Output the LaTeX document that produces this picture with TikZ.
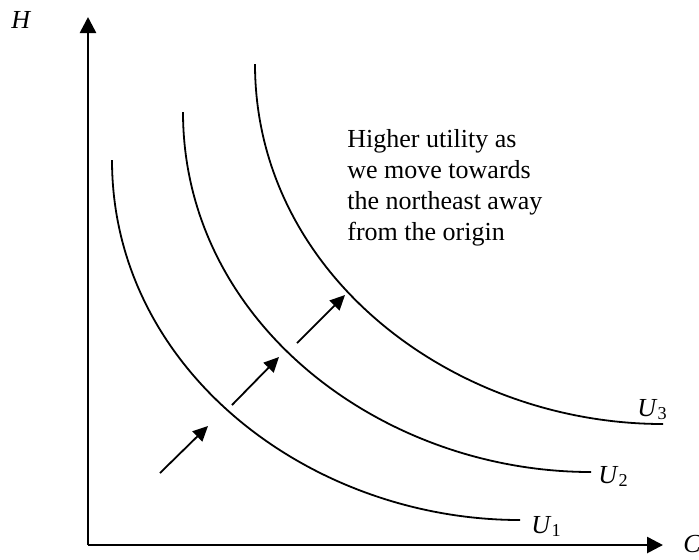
\documentclass[tikz,border=0pt]{standalone}
\usepackage{fontspec}
\setmainfont{Liberation Serif}
\usetikzlibrary{arrows.meta}
\begin{document}
\begin{tikzpicture}[x=0.5pt, y=-0.5pt, font=\fontsize{13}{15.5}\selectfont,
    axis/.style={line width=1.3pt, -{Triangle[length=8pt, width=8pt]}},
    indiff/.style={line width=0.9pt},
    shiftarrow/.style={line width=0.9pt, -{Triangle[length=7.5pt, width=7pt]}},
    curvelabel/.style={anchor=base west, inner sep=0pt}]
\useasboundingbox (0,0) rectangle (699,559);
% origin and axis ends
\coordinate (O)    at (88,545);
\coordinate (Htop) at (88,17);
\coordinate (Cend) at (663,545);
% x and y axes
\draw[axis] (O) -- (Htop);
\draw[axis] (O) -- (Cend);
\node[curvelabel] (Hlabel) at (11,28)   {\textit{H}};
\node[curvelabel] (Clabel) at (683,552) {\textit{C}};
% indifference curves (same shape, shifted to the northeast)
\coordinate (U1top) at (112,160); \coordinate (U1end) at (520,520);
\coordinate (U2top) at (183,112); \coordinate (U2end) at (591,472);
\coordinate (U3top) at (255,64);  \coordinate (U3end) at (663,424);
\draw[indiff] (U1top) .. controls (112,370) and (310,520) .. (U1end);
\draw[indiff] (U2top) .. controls (183,322) and (381,472) .. (U2end);
\draw[indiff] (U3top) .. controls (255,274) and (453,424) .. (U3end);
% curve labels
\node[curvelabel] (U1label) at (531,533) {\textit{U}\textsubscript{1}};
\node[curvelabel] (U2label) at (598,483) {\textit{U}\textsubscript{2}};
\node[curvelabel] (U3label) at (637,416) {\textit{U}\textsubscript{3}};
% arrows towards higher utility
\coordinate (a1s) at (160,473); \coordinate (a1e) at (208,426);
\coordinate (a2s) at (232,405); \coordinate (a2e) at (279,357);
\coordinate (a3s) at (297,343); \coordinate (a3e) at (345,295);
\draw[shiftarrow] (a1s) -- (a1e);
\draw[shiftarrow] (a2s) -- (a2e);
\draw[shiftarrow] (a3s) -- (a3e);
% note
\node[anchor=north west, align=left, inner sep=0pt] (note) at (347,129)
    {Higher utility as\\we move towards\\the northeast away\\from the origin};
\end{tikzpicture}
\end{document}
